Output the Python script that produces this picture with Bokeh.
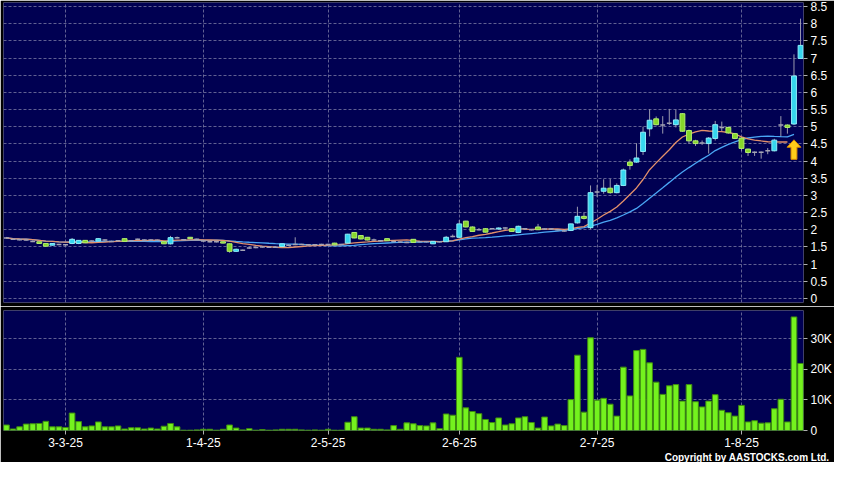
import pandas as pd
from bokeh.plotting import figure
from bokeh.layouts import column
from bokeh.models import Range1d, FixedTicker, NumeralTickFormatter, Title, ColumnDataSource
from bokeh.embed import file_html
from bokeh.resources import INLINE

# ---------------- data ----------------
date_ticks = [9, 30, 49, 69, 90, 112]
date_labels = ["3-3-25", "1-4-25", "2-5-25", "2-6-25", "2-7-25", "1-8-25"]

price_ticks = [0, 0.5, 1, 1.5, 2, 2.5, 3, 3.5, 4, 4.5, 5, 5.5, 6, 6.5, 7, 7.5, 8, 8.5]
volume_ticks = [0, 10, 20, 30]
volume_tick_labels = ["0", "10K", "20K", "30K"]

opens = [1.76, 1.72, 1.71, 1.70, 1.66, 1.65, 1.60, 1.55, 1.57, 1.56,
         1.60, 1.60, 1.69, 1.67, 1.67, 1.70, 1.66, 1.68, 1.74, 1.68,
         1.72, 1.70, 1.70, 1.69, 1.65, 1.59, 1.77, 1.71, 1.78, 1.72,
         1.67, 1.65, 1.65, 1.65, 1.59, 1.37, 1.40, 1.47, 1.48, 1.50,
         1.49, 1.49, 1.51, 1.55, 1.57, 1.57, 1.56, 1.56, 1.57, 1.57,
         1.61, 1.57, 1.61, 1.92, 1.83, 1.78, 1.70, 1.68, 1.74, 1.66,
         1.64, 1.63, 1.72, 1.65, 1.65, 1.59, 1.65, 1.65, 1.80, 1.78,
         2.25, 2.08, 2.00, 2.03, 2.03, 2.02, 2.05, 2.03, 1.92, 2.03,
         2.00, 2.08, 2.02, 2.02, 2.00, 1.96, 1.98, 2.20, 2.39, 2.06,
         3.10, 3.12, 3.21, 3.08, 3.29, 3.97, 3.97, 4.28, 4.94, 5.23,
         5.05, 5.10, 5.06, 5.38, 4.89, 4.59, 4.53, 4.51, 4.66, 4.98,
         4.98, 4.80, 4.67, 4.35, 4.26, 4.26, 4.30, 4.30, 5.05, 5.05,
         5.08, 6.99]
highs = [1.79, 1.74, 1.73, 1.72, 1.69, 1.66, 1.61, 1.61, 1.59, 1.58,
         1.76, 1.70, 1.70, 1.69, 1.76, 1.72, 1.68, 1.70, 1.75, 1.70,
         1.74, 1.72, 1.72, 1.71, 1.66, 1.82, 1.80, 1.73, 1.79, 1.74,
         1.70, 1.67, 1.67, 1.66, 1.60, 1.45, 1.42, 1.50, 1.50, 1.52,
         1.51, 1.51, 1.60, 1.57, 1.78, 1.59, 1.58, 1.58, 1.59, 1.59,
         1.62, 1.59, 1.88, 1.93, 1.84, 1.79, 1.74, 1.70, 1.75, 1.68,
         1.66, 1.65, 1.73, 1.67, 1.67, 1.67, 1.67, 1.82, 1.86, 2.28,
         2.26, 2.10, 2.05, 2.05, 2.05, 2.07, 2.07, 2.05, 2.12, 2.05,
         2.02, 2.17, 2.04, 2.04, 2.02, 1.98, 2.18, 2.67, 2.50, 3.29,
         3.30, 3.47, 3.48, 3.35, 3.78, 4.05, 4.52, 5.00, 5.51, 5.30,
         5.31, 5.52, 5.50, 5.40, 4.92, 4.62, 4.60, 4.70, 5.17, 5.15,
         5.00, 4.82, 4.70, 4.36, 4.28, 4.28, 4.38, 4.65, 5.31, 5.07,
         7.11, 8.15]
lows = [1.74, 1.70, 1.69, 1.68, 1.64, 1.59, 1.51, 1.54, 1.55, 1.54,
        1.58, 1.58, 1.61, 1.65, 1.66, 1.68, 1.64, 1.66, 1.65, 1.66,
        1.70, 1.68, 1.68, 1.67, 1.58, 1.57, 1.75, 1.69, 1.73, 1.70,
        1.65, 1.63, 1.63, 1.60, 1.33, 1.35, 1.38, 1.45, 1.46, 1.48,
        1.47, 1.47, 1.50, 1.53, 1.55, 1.55, 1.54, 1.54, 1.55, 1.55,
        1.55, 1.55, 1.59, 1.75, 1.72, 1.69, 1.68, 1.66, 1.67, 1.64,
        1.62, 1.61, 1.62, 1.63, 1.63, 1.58, 1.63, 1.64, 1.78, 1.76,
        2.07, 1.94, 1.98, 1.92, 2.01, 2.00, 2.03, 1.94, 1.90, 2.01,
        1.98, 1.99, 2.00, 2.00, 1.98, 1.94, 1.96, 2.18, 2.30, 2.02,
        2.95, 3.05, 3.05, 3.06, 3.27, 3.75, 3.95, 4.18, 4.72, 5.04,
        4.80, 5.05, 4.98, 4.85, 4.50, 4.44, 4.47, 4.22, 4.60, 4.85,
        4.80, 4.64, 4.30, 4.15, 4.15, 4.07, 4.20, 4.28, 4.70, 4.80,
        5.05, 6.98]
closes = [1.76, 1.72, 1.71, 1.70, 1.66, 1.60, 1.52, 1.60, 1.57, 1.56,
          1.72, 1.69, 1.62, 1.67, 1.74, 1.70, 1.66, 1.68, 1.66, 1.68,
          1.72, 1.70, 1.70, 1.69, 1.59, 1.77, 1.77, 1.71, 1.74, 1.72,
          1.67, 1.65, 1.65, 1.61, 1.37, 1.43, 1.40, 1.47, 1.48, 1.50,
          1.49, 1.49, 1.59, 1.55, 1.57, 1.57, 1.56, 1.56, 1.57, 1.57,
          1.56, 1.57, 1.87, 1.76, 1.73, 1.70, 1.70, 1.68, 1.68, 1.66,
          1.64, 1.63, 1.63, 1.65, 1.65, 1.66, 1.65, 1.78, 1.80, 2.17,
          2.08, 1.95, 2.00, 1.93, 2.03, 2.05, 2.05, 1.95, 2.10, 2.03,
          2.00, 2.00, 2.02, 2.02, 2.00, 1.96, 2.17, 2.39, 2.33, 3.08,
          3.10, 3.21, 3.08, 3.29, 3.74, 3.87, 4.09, 4.84, 5.19, 5.06,
          5.05, 5.10, 5.20, 4.87, 4.59, 4.51, 4.53, 4.67, 5.06, 4.98,
          4.82, 4.66, 4.37, 4.25, 4.26, 4.26, 4.30, 4.61, 5.05, 4.98,
          6.48, 7.37]
volumes_k = [1.8, 0.5, 1.2, 2.1, 2.2, 2.3, 3.0, 1.2, 1.2, 1.0,
             5.7, 2.9, 1.2, 1.5, 2.8, 1.2, 1.2, 1.5, 0.5, 0.9,
             0.9, 0.5, 0.8, 0.5, 1.4, 2.3, 1.2, 0.1, 0.1, 0.2,
             0.4, 0.4, 0.1, 0.4, 1.8, 0.8, 0.2, 0.6, 0.1, 0.3,
             0.1, 0.2, 0.4, 0.4, 0.4, 0.2, 0.1, 0.2, 0.1, 0.4,
             0.1, 0.1, 2.7, 4.5, 0.8, 0.8, 0.4, 0.4, 0.2, 1.6,
             0.4, 2.5, 2.2, 1.6, 1.5, 2.5, 0.6, 5.4, 5.0, 23.9,
             7.4, 6.2, 5.5, 3.6, 2.6, 4.1, 1.8, 2.2, 4.1, 4.5,
             2.6, 0.8, 4.4, 1.5, 2.1, 1.6, 10.1, 24.6, 6.0, 30.3,
             9.9, 10.5, 8.6, 4.7, 20.7, 11.3, 26.1, 26.5, 22.1, 15.8,
             11.8, 14.6, 15.0, 9.6, 15.0, 9.4, 7.7, 9.6, 11.7, 6.6,
             5.8, 4.7, 8.2, 2.8, 3.2, 2.4, 2.5, 7.1, 10.2, 2.8,
             37.1, 21.9]

# moving averages shown on the chart (10 and 20 sessions) and where each line stops
ma_short_days, ma_short_last = 10, 119
ma_long_days, ma_long_last = 20, 120

# the signal arrow under the last sessions
signal_x, signal_base, signal_tip = 120, 4.05, 4.62

# ---------------- styling ----------------
BG = "#000052"
GRID = "#8080a8"
UP = "#36d6ee"
DOWN = "#86d62a"
DOJI = "#a4a4b4"
WICK = "#9a9aae"
VOL_FILL = "#74f21e"
VOL_LINE = "#3f8c10"
FONT = "Liberation Sans"

n = len(closes)
xs = list(range(n))
s = pd.Series(closes)
ma_short = s.rolling(ma_short_days, min_periods=1).mean().tolist()
ma_long = s.rolling(ma_long_days, min_periods=1).mean().tolist()

x_range = Range1d(-0.45, n - 0.55)


def style_common(fig):
    fig.background_fill_color = BG
    fig.border_fill_color = "black"
    fig.outline_line_color = None
    fig.xgrid.ticker = FixedTicker(ticks=date_ticks)
    for g in (fig.xgrid, fig.ygrid):
        g.grid_line_color = GRID
        g.grid_line_dash = "3 2"
        g.grid_line_width = 1
        g.grid_line_alpha = 0.75
    ax = fig.yaxis[0]
    ax.axis_line_color = None
    ax.major_tick_line_color = "#b0b0b0"
    ax.major_tick_out = 4
    ax.major_tick_in = 0
    ax.minor_tick_line_color = None
    ax.major_label_text_color = "white"
    ax.major_label_text_font = FONT
    ax.major_label_text_font_size = "12px"
    ax.major_label_standoff = 3


# ---------------- price panel ----------------
p = figure(width=834, height=306, x_range=x_range, y_range=Range1d(-0.12, 8.62),
           y_axis_location="right", output_backend="svg", toolbar_location=None,
           min_border_left=3, min_border_right=28, min_border_top=2, min_border_bottom=4)
style_common(p)
p.xaxis.visible = False
p.xaxis.ticker = FixedTicker(ticks=date_ticks)
p.yaxis.ticker = FixedTicker(ticks=price_ticks)
p.yaxis.formatter = NumeralTickFormatter(format="0.[0]")

# wicks
p.segment(x0=xs, y0=lows, x1=xs, y1=highs, line_color=WICK, line_width=1)

# moving averages
p.line(xs[:ma_long_last + 1], ma_long[:ma_long_last + 1], line_color="#4aa6f5", line_width=1.3)
p.line(xs[:ma_short_last + 1], ma_short[:ma_short_last + 1], line_color="#e3906b", line_width=1.3)

up = [i for i in xs if closes[i] > opens[i]]
down = [i for i in xs if closes[i] < opens[i]]
doji = [i for i in xs if closes[i] == opens[i]]

bw = 0.74
src_up = ColumnDataSource(dict(x=up, top=[closes[i] for i in up], bottom=[opens[i] for i in up]))
src_dn = ColumnDataSource(dict(x=down, top=[opens[i] for i in down], bottom=[closes[i] for i in down]))
p.vbar(x="x", top="top", bottom="bottom", width=bw, source=src_up,
       fill_color=UP, line_color="#8eeefa", line_width=1)
p.vbar(x="x", top="top", bottom="bottom", width=bw, source=src_dn,
       fill_color=DOWN, line_color="#b2ee70", line_width=1)
p.segment(x0=[i - bw / 2 for i in doji], y0=[closes[i] for i in doji],
          x1=[i + bw / 2 for i in doji], y1=[closes[i] for i in doji],
          line_color=DOJI, line_width=1.5)

# signal arrow
head_y = signal_tip - (signal_tip - signal_base) * 0.38
ax_ = [signal_x - 0.45, signal_x + 0.45, signal_x + 0.45, signal_x + 1.05,
       signal_x, signal_x - 1.05, signal_x - 0.45]
ay_ = [signal_base, signal_base, head_y, head_y, signal_tip, head_y, head_y]
p.patch(ax_, ay_, fill_color="#ffcc1a", line_color="#d98a00", line_width=1)

# ---------------- volume panel ----------------
v = figure(width=834, height=156, x_range=x_range, y_range=Range1d(0, 39.2),
           y_axis_location="right", output_backend="svg", toolbar_location=None,
           min_border_left=3, min_border_right=28, min_border_top=4, min_border_bottom=0)
style_common(v)
v.yaxis.ticker = FixedTicker(ticks=volume_ticks)
v.yaxis.major_label_overrides = {t: lab for t, lab in zip(volume_ticks, volume_tick_labels)}
v.vbar(x=xs, top=volumes_k, bottom=0, width=0.86, fill_color=VOL_FILL,
       line_color=VOL_LINE, line_width=1)

xa = v.xaxis[0]
xa.ticker = FixedTicker(ticks=date_ticks)
xa.major_label_overrides = {t: lab for t, lab in zip(date_ticks, date_labels)}
xa.axis_line_color = None
xa.major_tick_line_color = "#b0b0b0"
xa.major_tick_out = 4
xa.major_tick_in = 0
xa.minor_tick_line_color = None
xa.major_label_text_color = "white"
xa.major_label_text_font = FONT
xa.major_label_text_font_size = "12px"
xa.major_label_standoff = 3

v.add_layout(Title(text="Copyright by AASTOCKS.com Ltd.", align="right", offset=-26,
                   text_color="white", text_font=FONT, text_font_size="10px",
                   text_font_style="bold", standoff=0), "below")

layout = column(p, v, spacing=0)
open("out.html", "w").write(file_html(layout, INLINE))
